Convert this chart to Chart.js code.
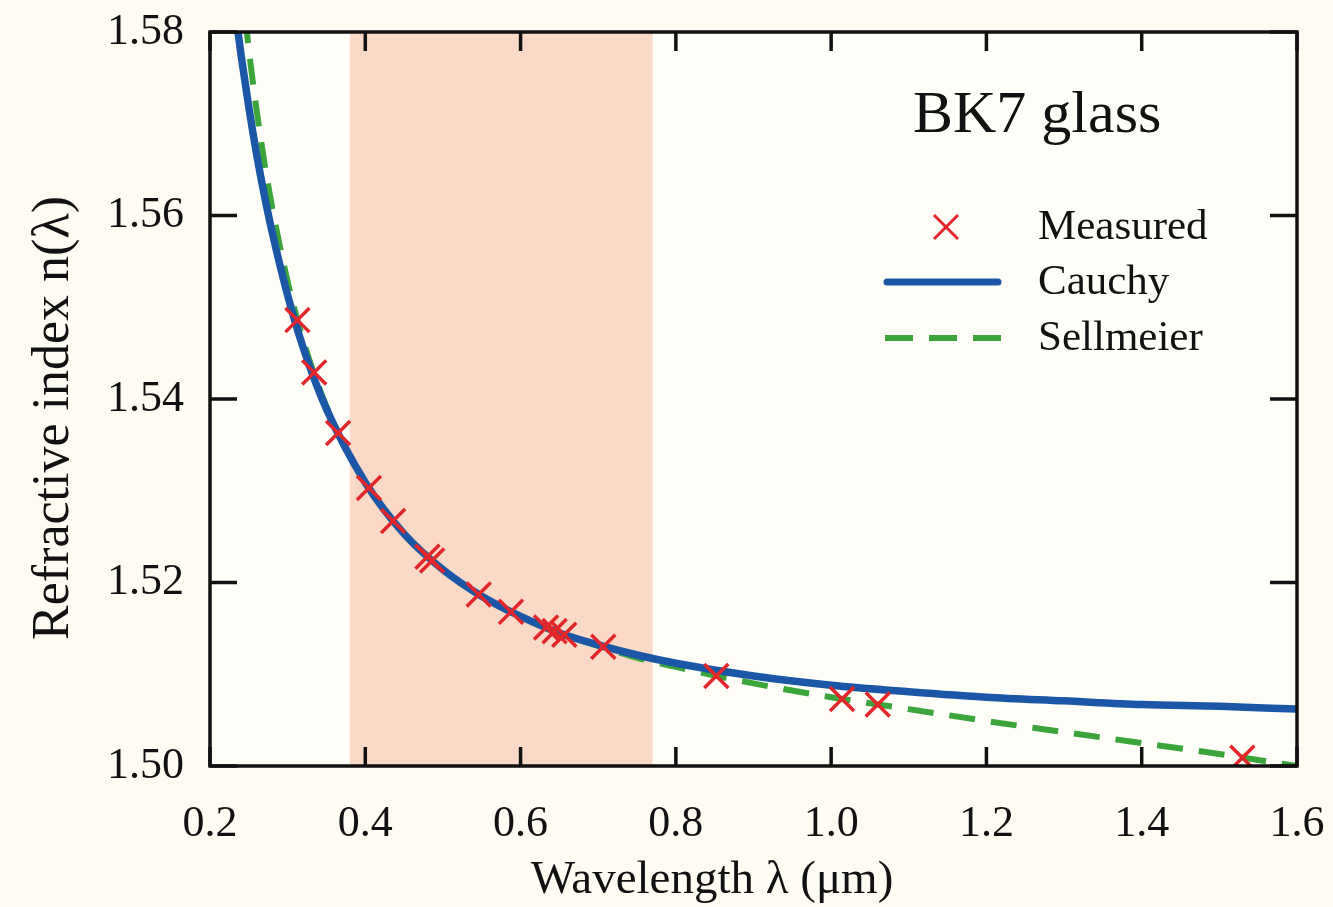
<!DOCTYPE html>
<html>
<head>
<meta charset="utf-8">
<title>BK7 glass refractive index</title>
<script src="https://cdn.jsdelivr.net/npm/chart.js@4.4.1/dist/chart.umd.min.js"></script>
<style>
  html, body { margin: 0; padding: 0; background: #fdfbf2; }
  #wrap { width: 1333px; height: 907px; }
</style>
</head>
<body>
<div id="wrap"><canvas id="chart" width="1333" height="907"></canvas></div>
<script>
// measured points (wavelength in um, index)
const measuredWavelength = [0.3126, 0.3342, 0.3650, 0.4047, 0.4358, 0.4800, 0.4861, 0.5461, 0.5876,
                            0.6328, 0.6438, 0.6563, 0.7065, 0.8521, 1.0140, 1.0600, 1.5296];
const measuredIndex = [1.5486, 1.5429, 1.5363, 1.5303, 1.5267, 1.5228, 1.5224, 1.5187, 1.5168,
                       1.5151, 1.5147, 1.5143, 1.5130, 1.5098, 1.5073, 1.5067, 1.5009];

// fitted curves, read at these wavelengths
const curveWavelength = [0.23, 0.235, 0.24, 0.25, 0.26, 0.27, 0.28, 0.30, 0.32, 0.35, 0.40, 0.45, 0.50,
                         0.55, 0.60, 0.65, 0.70, 0.75, 0.80, 0.90, 1.0, 1.1, 1.2, 1.3, 1.4, 1.5, 1.6];
const cauchyIndex = [1.5840, 1.5807, 1.5775, 1.5718, 1.5667, 1.5622, 1.5582, 1.5513, 1.5456, 1.5389, 1.5309,
                     1.5253, 1.5214, 1.5185, 1.5163, 1.5145, 1.5132, 1.5121, 1.5112, 1.5098, 1.5088,
                     1.5081, 1.5075, 1.5071, 1.5067, 1.5065, 1.5062];
const sellmeierIndex = [1.5953, 1.5904, 1.5859, 1.5781, 1.5715, 1.5658, 1.5609, 1.5528, 1.5464, 1.5392, 1.5309,
                        1.5253, 1.5214, 1.5185, 1.5163, 1.5145, 1.5131, 1.5118, 1.5108, 1.5090, 1.5075,
                        1.5062, 1.5049, 1.5037, 1.5025, 1.5013, 1.5000];

// visible spectrum band
const visibleBand = [0.38, 0.77];

const xTicks = [0.2, 0.4, 0.6, 0.8, 1.0, 1.2, 1.4, 1.6];
const yTicks = [1.50, 1.52, 1.54, 1.56, 1.58];

const xTitle = "Wavelength λ (μm)";
const yTitle = "Refractive index n(λ)";
const legendTitle = "BK7 glass";
const seriesNames = ["Measured", "Cauchy", "Sellmeier"];

const SERIF = "'Liberation Serif', 'Times New Roman', serif";
const INK = "#111111";
const RED = "#e3262a";
const BLUE = "#1b57a6";
const GREEN = "#3ba53b";

const toPoints = (xs, ys) => xs.map((x, i) => ({ x: x, y: ys[i] }));

// no extra room for overflowing tick labels, the layout padding handles it
const noLabelPadding = s => {
    s.paddingTop = 0; s.paddingBottom = 0;
    s.paddingLeft = 0; s.paddingRight = 0;
};

const decorPlugin = {
    id: "decor",
    beforeDraw(chart) {
        const ctx = chart.ctx;
        const a = chart.chartArea;
        const xs = chart.scales.x;
        ctx.save();
        ctx.fillStyle = "#fdfbf2";
        ctx.fillRect(0, 0, chart.width, chart.height);
        ctx.fillStyle = "#fefdf8";
        ctx.fillRect(a.left, a.top, a.right - a.left, a.bottom - a.top);
        // shaded band
        const b0 = xs.getPixelForValue(visibleBand[0]);
        const b1 = xs.getPixelForValue(visibleBand[1]);
        ctx.fillStyle = "#fad9c6";
        ctx.fillRect(b0, a.top, b1 - b0, a.bottom - a.top);
        ctx.restore();
    },
    afterDatasetsDraw(chart) {
        const ctx = chart.ctx;
        const a = chart.chartArea;
        const xs = chart.scales.x;
        const ys = chart.scales.y;
        ctx.save();
        // inward ticks on all four sides
        ctx.strokeStyle = INK;
        ctx.lineWidth = 3.5;
        ctx.beginPath();
        xs.ticks.forEach(t => {
            const px = xs.getPixelForValue(t.value);
            ctx.moveTo(px, a.bottom); ctx.lineTo(px, a.bottom - 19);
            ctx.moveTo(px, a.top); ctx.lineTo(px, a.top + 19);
        });
        ys.ticks.forEach(t => {
            const py = ys.getPixelForValue(t.value);
            ctx.moveTo(a.left, py); ctx.lineTo(a.left + 27, py);
            ctx.moveTo(a.right, py); ctx.lineTo(a.right - 27, py);
        });
        ctx.stroke();
        ctx.strokeRect(a.left, a.top, a.right - a.left, a.bottom - a.top);

        // axis titles
        ctx.fillStyle = INK;
        ctx.textAlign = "center";
        ctx.textBaseline = "alphabetic";
        ctx.font = "47px " + SERIF;
        ctx.fillText(xTitle, 712, 893);
        ctx.save();
        ctx.translate(68, 418);
        ctx.rotate(-Math.PI / 2);
        ctx.font = "52px " + SERIF;
        ctx.fillText(yTitle, 0, 0);
        ctx.restore();

        // legend
        ctx.textAlign = "left";
        ctx.font = "60px " + SERIF;
        ctx.fillText(legendTitle, 913, 132);

        ctx.font = "43px " + SERIF;
        ctx.fillText(seriesNames[0], 1038, 239);
        ctx.fillText(seriesNames[1], 1038, 294);
        ctx.fillText(seriesNames[2], 1038, 350);

        // cross
        ctx.strokeStyle = RED;
        ctx.lineWidth = 3;
        ctx.beginPath();
        ctx.moveTo(934, 215); ctx.lineTo(958, 239);
        ctx.moveTo(958, 215); ctx.lineTo(934, 239);
        ctx.stroke();
        // solid
        ctx.strokeStyle = BLUE;
        ctx.lineWidth = 7;
        ctx.lineCap = "round";
        ctx.beginPath();
        ctx.moveTo(887, 282); ctx.lineTo(998, 282);
        ctx.stroke();
        // dashed
        ctx.strokeStyle = GREEN;
        ctx.lineWidth = 6;
        ctx.lineCap = "butt";
        ctx.setLineDash([28, 16]);
        ctx.beginPath();
        ctx.moveTo(885, 338); ctx.lineTo(1001, 338);
        ctx.stroke();
        ctx.restore();
    }
};

const ctx = document.getElementById("chart").getContext("2d");
new Chart(ctx, {
    type: "scatter",
    data: {
        datasets: [
            {
                label: seriesNames[0],
                data: toPoints(measuredWavelength, measuredIndex),
                showLine: false,
                pointStyle: "crossRot",
                pointRadius: 17,
                pointBorderWidth: 3.5,
                borderColor: RED,
                backgroundColor: RED
            },
            {
                label: seriesNames[1],
                data: toPoints(curveWavelength, cauchyIndex),
                showLine: true,
                pointRadius: 0,
                borderColor: BLUE,
                borderWidth: 7.5,
                cubicInterpolationMode: "monotone",
                fill: false
            },
            {
                label: seriesNames[2],
                data: toPoints(curveWavelength, sellmeierIndex),
                showLine: true,
                pointRadius: 0,
                borderColor: GREEN,
                borderWidth: 6,
                borderDash: [26, 16],
                cubicInterpolationMode: "monotone",
                fill: false
            }
        ]
    },
    options: {
        responsive: false,
        animation: false,
        layout: {
            padding: { left: 0, top: 32, right: 36, bottom: 0 }
        },
        plugins: {
            legend: { display: false },
            tooltip: { enabled: false }
        },
        scales: {
            x: {
                type: "linear",
                min: 0.2,
                max: 1.6,
                afterBuildTicks: s => { s.ticks = xTicks.map(v => ({ value: v })); },
                afterFit: s => { s.height = 141; noLabelPadding(s); },
                grid: { display: false, drawTicks: false },
                border: { display: false },
                ticks: {
                    padding: 32,
                    color: INK,
                    font: { family: SERIF, size: 44 },
                    callback: v => Number(v).toFixed(1)
                }
            },
            y: {
                type: "linear",
                min: 1.50,
                max: 1.58,
                afterBuildTicks: s => { s.ticks = yTicks.map(v => ({ value: v })); },
                afterFit: s => { s.width = 210; noLabelPadding(s); },
                grid: { display: false, drawTicks: false },
                border: { display: false },
                ticks: {
                    padding: 26,
                    color: INK,
                    font: { family: SERIF, size: 44 },
                    callback: v => Number(v).toFixed(2)
                }
            }
        }
    },
    plugins: [decorPlugin]
});
</script>
</body>
</html>
